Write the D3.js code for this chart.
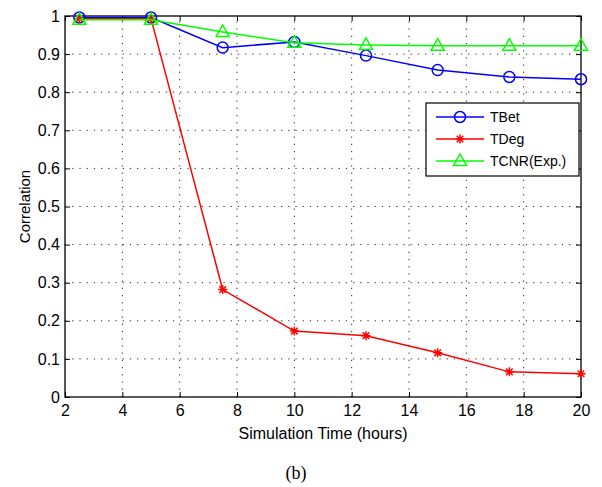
<!DOCTYPE html>
<html><head><meta charset="utf-8">
<script src="https://cdn.jsdelivr.net/npm/d3@7"></script>
<style>body{margin:0;background:#fff}svg{display:block}text{font-family:Arial,"Liberation Sans",Helvetica,sans-serif}</style>
</head><body><svg id="c" width="602" height="487"></svg>
<script>
const hours = [2.5, 5, 7.5, 10, 12.5, 15, 17.5, 20];
const tbet = [0.996, 0.996, 0.917, 0.932, 0.896, 0.858, 0.840, 0.834];
const tdeg = [0.993, 0.993, 0.282, 0.173, 0.161, 0.116, 0.066, 0.061];
const tcnr = [0.990, 0.990, 0.958, 0.930, 0.924, 0.922, 0.922, 0.922];
const seriesNames = ["TBet", "TDeg", "TCNR(Exp.)"];
const xTicks = [2,4,6,8,10,12,14,16,18,20];
const yTicks = [0,0.1,0.2,0.3,0.4,0.5,0.6,0.7,0.8,0.9,1];

const svg = d3.select("#c");
const L=65, R=581, T=16, B=397;
const x = d3.scaleLinear().domain([2,20]).range([L,R]);
const y = d3.scaleLinear().domain([0,1]).range([B,T]);

// grid
const g = svg.append("g");
g.selectAll(".gx").data(xTicks.slice(1,-1)).join("line")
 .attr("x1",d=>x(d)).attr("x2",d=>x(d)).attr("y1",B).attr("y2",T)
 .attr("stroke","#333").attr("stroke-width",1).attr("stroke-dasharray","1.3,5.9");
g.selectAll(".gy").data(yTicks.slice(1,-1)).join("line")
 .attr("y1",d=>y(d)).attr("y2",d=>y(d)).attr("x1",L).attr("x2",R)
 .attr("stroke","#333").attr("stroke-width",1).attr("stroke-dasharray","1.3,5.9");

// axes
const fs = 16;
svg.append("g").attr("transform",`translate(0,${B})`)
 .call(d3.axisBottom(x).tickValues(xTicks).tickSize(-5).tickPadding(8).tickFormat(d3.format("d")))
 .call(a=>{a.select(".domain").remove();a.selectAll("text").attr("font-size",fs).attr("font-family","Arial, Liberation Sans, sans-serif");});
svg.append("g").attr("transform",`translate(${L},0)`)
 .call(d3.axisLeft(y).tickValues(yTicks).tickSize(-5).tickPadding(5).tickFormat(d=>d===0?"0":d===1?"1":d3.format(".1f")(d)))
 .call(a=>{a.select(".domain").remove();a.selectAll("text").attr("font-size",fs).attr("font-family","Arial, Liberation Sans, sans-serif");});
svg.append("g").attr("transform",`translate(0,${T})`)
 .call(d3.axisTop(x).tickValues(xTicks).tickSize(-5).tickFormat(""))
 .call(a=>a.select(".domain").remove());
svg.append("g").attr("transform",`translate(${R},0)`)
 .call(d3.axisRight(y).tickValues(yTicks).tickSize(-5).tickFormat(""))
 .call(a=>a.select(".domain").remove());
svg.append("rect").attr("x",L).attr("y",T).attr("width",R-L).attr("height",B-T)
 .attr("fill","none").attr("stroke","#000").attr("stroke-width",1.3);

svg.append("text").attr("x",(L+R)/2).attr("y",439).attr("text-anchor","middle").attr("font-size",16).text("Simulation Time (hours)");
svg.append("text").attr("transform",`translate(30,${(T+B)/2}) rotate(-90)`).attr("text-anchor","middle").attr("font-size",15).text("Correlation");
svg.append("text").attr("x",296).attr("y",479).attr("text-anchor","middle").attr("font-size",18)
 .style("font-family","'Liberation Serif','Times New Roman',serif").text("(b)");

const line = d3.line().x((d,i)=>x(hours[i])).y(d=>y(d));
const series = [
 {name:seriesNames[0], vals:tbet, color:"#0000ff", m:"circle"},
 {name:seriesNames[1], vals:tdeg, color:"#ff0000", m:"star"},
 {name:seriesNames[2], vals:tcnr, color:"#00ff00", m:"tri"}];

function marker(sel, type, color){
  if(type==="circle"){
    sel.append("circle").attr("r",5.5).attr("fill","none").attr("stroke",color).attr("stroke-width",1.5);
  } else if(type==="star"){
    const s=4.5, d=3.3;
    sel.append("path").attr("d",`M${-s},0L${s},0M0,${-s}L0,${s}M${-d},${-d}L${d},${d}M${-d},${d}L${d},${-d}`)
      .attr("stroke",color).attr("stroke-width",1.5).attr("fill","none");
  } else {
    sel.append("path").attr("d","M0,-7L6.5,4.5L-6.5,4.5Z").attr("fill","none").attr("stroke",color).attr("stroke-width",1.5);
  }
}

series.forEach(s=>{
  svg.append("path").datum(s.vals).attr("d",line).attr("fill","none").attr("stroke",s.color).attr("stroke-width",1.5);
  svg.append("g").selectAll("g").data(s.vals).join("g")
   .attr("transform",(d,i)=>`translate(${x(hours[i])},${y(d)})`)
   .each(function(){marker(d3.select(this),s.m,s.color);});
});

// legend
const lg = svg.append("g");
lg.append("rect").attr("x",426).attr("y",103).attr("width",153).attr("height",73)
 .attr("fill","#fff").attr("stroke","#000").attr("stroke-width",1.2);
series.forEach((s,i)=>{
  const yy = 117 + i*22;
  lg.append("line").attr("x1",436).attr("x2",484).attr("y1",yy).attr("y2",yy).attr("stroke",s.color).attr("stroke-width",1.5);
  marker(lg.append("g").attr("transform",`translate(460,${yy})`), s.m, s.color);
  lg.append("text").attr("x",490).attr("y",yy+5).attr("font-size",14).text(s.name);
});
</script></body></html>
